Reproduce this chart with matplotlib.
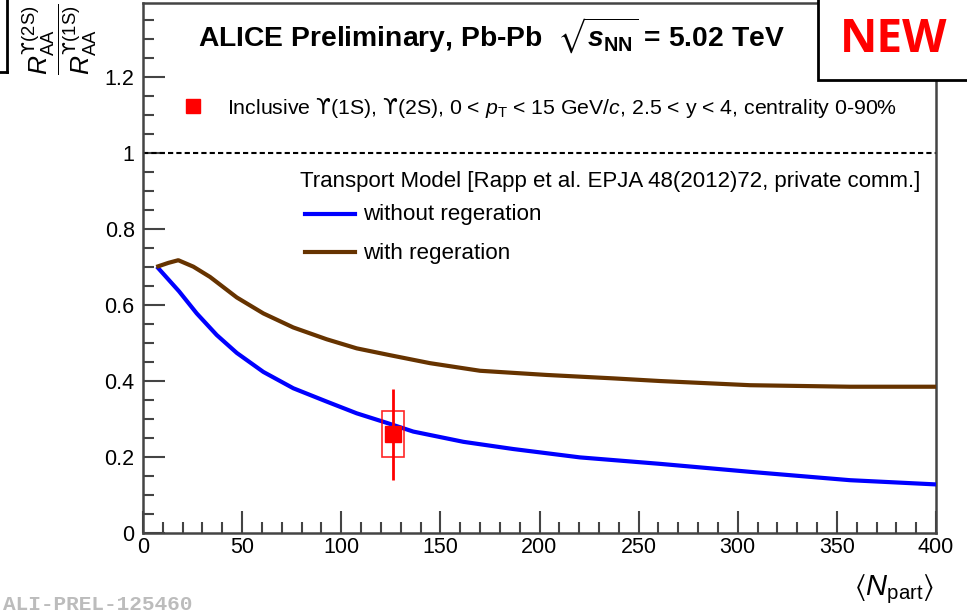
import matplotlib
matplotlib.use("Agg")
import matplotlib.pyplot as plt
from matplotlib.patches import Rectangle
from matplotlib.lines import Line2D

plt.rcParams['font.family'] = ['Liberation Sans', 'DejaVu Sans']
plt.rcParams['mathtext.fontset'] = 'custom'
plt.rcParams['mathtext.rm'] = 'Liberation Sans'
plt.rcParams['mathtext.it'] = 'Liberation Sans:italic'
plt.rcParams['mathtext.bf'] = 'Liberation Sans:bold'
plt.rcParams['mathtext.bfit'] = 'Liberation Sans:bold:italic'
plt.rcParams['mathtext.sf'] = 'DejaVu Sans'
plt.rcParams['mathtext.fallback'] = 'stixsans'

# ---- data ----
npart_noreg = [7.7, 18.2, 27.1, 37.2, 47.3, 60.7, 75.8, 92.6, 107.8, 122.9,
               136.3, 161.6, 186.8, 220.4, 260.8, 306.2, 356.6, 399.5]
raa_noreg = [0.697, 0.636, 0.578, 0.521, 0.474, 0.424, 0.381, 0.346, 0.315, 0.290,
             0.267, 0.240, 0.221, 0.199, 0.182, 0.161, 0.139, 0.128]

npart_reg = [7.7, 12.8, 17.8, 25.4, 33.8, 47.3, 60.7, 75.8, 92.6, 107.8, 124.6,
             144.8, 170.0, 203.6, 237.2, 260.8, 306.2, 356.6, 399.5]
raa_reg = [0.702, 0.711, 0.718, 0.701, 0.674, 0.620, 0.578, 0.541, 0.510, 0.486, 0.468,
           0.447, 0.427, 0.416, 0.407, 0.400, 0.389, 0.385, 0.385]

data_npart = [126.0]
data_ratio = [0.26]
data_stat = [0.12]
data_syst = [0.06]
syst_halfwidth = 5.5

xticks = [0, 50, 100, 150, 200, 250, 300, 350, 400]
yticks = [0, 0.2, 0.4, 0.6, 0.8, 1, 1.2]
ytick_labels = ['0', '0.2', '0.4', '0.6', '0.8', '1', '1.2']

W, H = 967, 614
fig = plt.figure(figsize=(W / 100, H / 100), dpi=100)
ax = fig.add_axes([143 / W, (H - 533) / H, (936 - 143) / W, (533 - 3) / H])

blue = '#0000ff'
brown = '#663300'
red = '#ff0000'

ax.plot(npart_noreg, raa_noreg, color=blue, lw=3.0, zorder=3)
ax.plot(npart_reg, raa_reg, color=brown, lw=3.0, zorder=3)
ax.axhline(1.0, color='black', lw=1.5, ls=(0, (2.5, 1.5)), zorder=2)

for x, y, s, sy in zip(data_npart, data_ratio, data_stat, data_syst):
    ax.add_patch(Rectangle((x - syst_halfwidth, y - sy), 2 * syst_halfwidth, 2 * sy,
                           facecolor='none', edgecolor=red, lw=1.2, zorder=4, alpha=0.85))
    ax.errorbar([x], [y], yerr=[s], fmt='s', color=red, ms=11, mec=red, mfc=red,
                elinewidth=2.0, capsize=0, zorder=5)

ax.set_xlim(0, 400)
ax.set_ylim(0, 1.395)
ax.set_xticks(xticks)
ax.set_xticklabels([str(v) for v in xticks])
ax.set_yticks(yticks)
ax.set_yticklabels(ytick_labels)
ax.set_xticks(list(range(0, 401, 10)), minor=True)
ax.set_yticks([i * 0.05 for i in range(0, 28)], minor=True)
ax.tick_params(which='both', direction='in', top=False, right=False, color='#444444', width=1.5)
ax.tick_params(which='major', length=16, labelsize=15.5, pad=3)
ax.tick_params(which='minor', length=8)
ax.tick_params(axis='y', pad=6)
for sp in ax.spines.values():
    sp.set_color('#444444')
    sp.set_linewidth(1.8)

# title
fig.text(491 / W, 1 - 36 / H, r'ALICE Preliminary, Pb-Pb  $\sqrt{\mathbfit{s}_{\mathbf{NN}}}$ = 5.02 TeV',
         ha='center', va='center', fontsize=20.3, fontweight='bold')

# legend entries
fig.add_artist(Line2D([193 / W], [1 - 106 / H], marker='s', ms=10, color=red, ls='none'))
fig.text(227 / W, 1 - 108 / H,
         r'Inclusive $\mathsf{ϒ}$(1S), $\mathsf{ϒ}$(2S), 0 < $p_{\rm T}$ < 15 GeV/$c$, 2.5 < y < 4, centrality 0-90%',
         ha='left', va='center', fontsize=15.3)
fig.text(920 / W, 1 - 181 / H, 'Transport Model [Rapp et al. EPJA 48(2012)72, private comm.]',
         ha='right', va='center', fontsize=16.0)
fig.add_artist(Line2D([305 / W, 355 / W], [1 - 214 / H, 1 - 214 / H], color=blue, lw=3))
fig.text(363 / W, 1 - 215 / H, 'without regeration', ha='left', va='center', fontsize=16.1)
fig.add_artist(Line2D([305 / W, 355 / W], [1 - 252 / H, 1 - 252 / H], color=brown, lw=3))
fig.text(363 / W, 1 - 253 / H, 'with regeration', ha='left', va='center', fontsize=16.1)

# axis labels
fig.text(59 / W, 1 - 39 / H,
         r'$\dfrac{R_{\rm AA}^{\mathsf{ϒ}\mathrm{(2S)}}}{R_{\rm AA}^{\mathsf{ϒ}\mathrm{(1S)}}}$',
         rotation=90, ha='center', va='center', fontsize=19)
fig.text(894 / W, 1 - 589 / H, r'$\langle N_{\rm part}\rangle$', ha='center', va='center', fontsize=21)

# watermark
fig.text(3 / W, 1 - 604 / H, 'ALI-PREL-125460', ha='left', va='center', fontsize=15.2,
         family='Liberation Mono', fontweight='bold', color='#bcbcbc')

# NEW box
fig.add_artist(Rectangle((818 / W, 1 - 80 / H), 200 / W, 100 / H, facecolor='white',
                         edgecolor='black', lw=2, transform=fig.transFigure, zorder=10))
fig.text(894 / W, 1 - 39 / H, 'NEW', ha='center', va='center', fontsize=33,
         fontweight='bold', color=red, family='Open Sans', zorder=11)

# left partial box
fig.add_artist(Line2D([7 / W, 7 / W], [1.0, 1 - 72 / H], color='black', lw=2))
fig.add_artist(Line2D([0, 7 / W], [1 - 72 / H, 1 - 72 / H], color='black', lw=2))

fig.savefig('out.png', dpi=100)
